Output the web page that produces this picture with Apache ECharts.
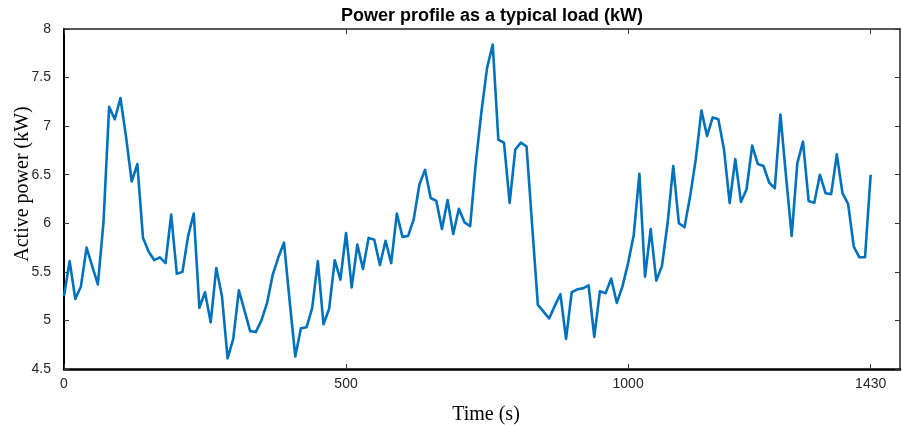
<!DOCTYPE html>
<html>
<head>
<meta charset="utf-8">
<script src="https://cdn.jsdelivr.net/npm/echarts@6/dist/echarts.min.js"></script>
<style>
html,body{margin:0;padding:0;background:#fff;}
#chart{width:902px;height:425px;}
</style>
</head>
<body>
<div id="chart"></div>
<script>
var titleText = 'Power profile as a typical load (kW)';
var xName = 'Time (s)';
var yName = 'Active power (kW)';
var xTicks = [0, 500, 1000, 1430];

var times = [
  0,10,20,30,40,50,60,70,80,90,100,110,120,130,140,150,160,170,180,190,
  200,210,220,230,240,250,260,270,280,290,300,310,320,330,340,350,360,370,380,390,
  400,410,420,430,440,450,460,470,480,490,500,510,520,530,540,550,560,570,580,590,
  600,610,620,630,640,650,660,670,680,690,700,710,720,730,740,750,760,770,780,790,
  800,810,820,830,840,850,860,870,880,890,900,910,920,930,940,950,960,970,980,990,
  1000,1010,1020,1030,1040,1050,1060,1070,1080,1090,1100,1110,1120,1130,1140,1150,1160,1170,1180,1190,
  1200,1210,1220,1230,1240,1250,1260,1270,1280,1290,1300,1310,1320,1330,1340,1350,1360,1370,1380,1390,
  1400,1410,1420,1430
];
var power = [
  5.25,5.61,5.22,5.35,5.75,5.56,5.37,6.01,7.20,7.07,7.29,6.89,6.43,6.61,5.85,5.71,5.62,5.65,5.59,6.09,
  5.48,5.50,5.87,6.10,5.13,5.29,4.98,5.54,5.25,4.61,4.81,5.31,5.10,4.89,4.88,5.00,5.18,5.47,5.65,5.80,
  5.20,4.63,4.92,4.93,5.13,5.61,4.96,5.12,5.62,5.42,5.90,5.34,5.78,5.53,5.85,5.83,5.57,5.82,5.59,6.10,
  5.86,5.87,6.04,6.40,6.55,6.26,6.23,5.94,6.24,5.89,6.15,6.01,5.97,6.62,7.15,7.60,7.84,6.86,6.83,6.21,
  6.76,6.83,6.79,5.97,5.16,5.09,5.02,5.15,5.27,4.81,5.29,5.32,5.33,5.36,4.83,5.30,5.28,5.43,5.18,5.35,
  5.59,5.88,6.51,5.45,5.94,5.41,5.56,6.00,6.59,6.00,5.96,6.28,6.66,7.16,6.90,7.09,7.07,6.76,6.21,6.66,
  6.22,6.35,6.80,6.61,6.59,6.42,6.36,7.12,6.48,5.87,6.62,6.84,6.23,6.21,6.50,6.31,6.30,6.71,6.31,6.20,
  5.76,5.65,5.65,6.50
];

var seriesData = times.map(function (t, i) { return [t, power[i]]; });

var chart = echarts.init(document.getElementById('chart'), null, {renderer: 'canvas'});

var tickFont = 'Liberation Sans, Arial, sans-serif';
var tickColor = '#262626';
var frameColor = '#000';

chart.setOption({
  animation: false,
  backgroundColor: '#fff',
  title: {
    text: titleText,
    left: 487,
    top: 2,
    textAlign: 'center',
    textStyle: {fontFamily: 'Liberation Sans, Arial, sans-serif', fontWeight: 'bold', fontSize: 18, color: '#000'}
  },
  grid: {left: 64, right: 2, top: 29, bottom: 56, containLabel: false, outerBoundsMode: 'none'},
  xAxis: [{
    type: 'value', position: 'bottom', min: 0, max: 1482,
    name: xName, nameLocation: 'middle', nameGap: 36, nameMoveOverlap: false,
    nameTextStyle: {fontFamily: 'Liberation Serif, Times New Roman, serif', fontSize: 20, color: '#000', padding: [0, 0, 0, 8]},
    axisLine: {show: true, onZero: false, lineStyle: {color: frameColor, width: 2.5}},
    axisTick: {show: true, inside: true, length: 5, customValues: xTicks, lineStyle: {color: '#333', width: 1}},
    axisLabel: {show: true, customValues: xTicks, margin: 8, color: tickColor, fontFamily: tickFont, fontSize: 14,
      formatter: function (v) { return String(v); }},
    splitLine: {show: false}
  }, {
    type: 'value', position: 'top', min: 0, max: 1482,
    axisLine: {show: true, onZero: false, lineStyle: {color: '#222', width: 1.5}},
    axisTick: {show: true, inside: true, length: 5, customValues: xTicks, lineStyle: {color: '#333', width: 1}},
    axisLabel: {show: false},
    splitLine: {show: false}
  }],
  yAxis: [{
    type: 'value', position: 'left', min: 4.5, max: 8, interval: 0.5,
    name: yName, nameLocation: 'middle', nameGap: 31, nameRotate: 90, nameMoveOverlap: false,
    nameTextStyle: {fontFamily: 'Liberation Serif, Times New Roman, serif', fontSize: 20, color: '#000', padding: [0, 0, 0, 30]},
    axisLine: {show: true, onZero: false, lineStyle: {color: frameColor, width: 2}},
    axisTick: {show: true, inside: true, length: 5, lineStyle: {color: '#333', width: 1}},
    axisLabel: {show: true, margin: 13, color: tickColor, fontFamily: tickFont, fontSize: 14,
      formatter: function (v) { return String(v); }},
    splitLine: {show: false}
  }, {
    type: 'value', position: 'right', min: 4.5, max: 8, interval: 0.5,
    axisLine: {show: true, onZero: false, lineStyle: {color: '#222', width: 1.5}},
    axisTick: {show: true, inside: true, length: 5, lineStyle: {color: '#333', width: 1}},
    axisLabel: {show: false},
    splitLine: {show: false}
  }],
  series: [{
    type: 'line',
    xAxisIndex: 0, yAxisIndex: 0,
    data: seriesData,
    showSymbol: false,
    symbol: 'none',
    lineStyle: {color: '#0072BD', width: 2.6, join: 'round'},
    emphasis: {disabled: true}
  }]
});
</script>
</body>
</html>
